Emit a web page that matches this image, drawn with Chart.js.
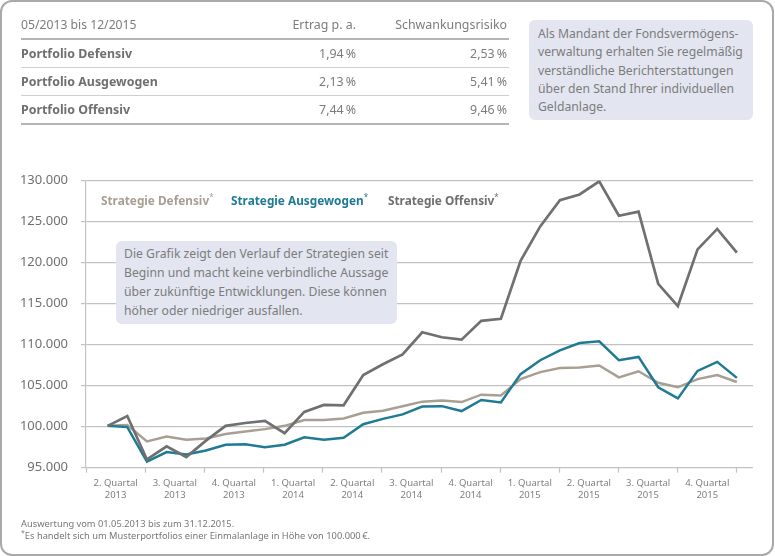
<!DOCTYPE html>
<html lang="de">
<head>
<meta charset="utf-8">
<title>Strategien</title>
<script src="https://cdn.jsdelivr.net/npm/chart.js@4"></script>
<style>
html, body { margin: 0; padding: 0; background: #fff; }
body { width: 775px; height: 556px; overflow: hidden; font-family: "Noto Sans", sans-serif; color: #7c7c7c; }
#frame { position: absolute; left: 0; top: 0; width: 770px; height: 552px; border: 2px solid #a9a9a9; border-radius: 12px; }
#chart { position: absolute; left: 0; top: 0; }
#summary { position: absolute; left: 21px; top: 11px; width: 488px; border-collapse: collapse; table-layout: fixed; font-size: 12.4px; }
#summary td, #summary th { padding: 0; font-weight: normal; text-align: right; height: 27px; border-bottom: 1px solid #cfcfcf; }
#summary tr:first-child th { border-bottom: 2px solid #b4b4b4; }
#summary tr:last-child td { border-bottom: 2px solid #b4b4b4; }
#summary .name { text-align: left; font-weight: bold; color: #6f6f6f; font-size: 12.4px; }
#summary th.name { font-weight: normal; color: #7c7c7c; font-size: 12.2px; }
#summary .risk { padding-right: 2px; }
.note { position: absolute; background: #e3e5f0; border-radius: 6px; box-sizing: border-box; white-space: nowrap; font-size: 12.2px; }
#note1 { left: 529px; top: 20px; width: 224px; height: 100px; padding: 5px 0 0 9px; line-height: 18.3px; }
#note2 { left: 116px; top: 241px; width: 281px; height: 83px; padding: 4px 0 0 8px; line-height: 18.9px; }
.legend { position: absolute; top: 192px; font-size: 11.8px; font-weight: bold; white-space: nowrap; }
.legend sup { font-size: 8px; font-weight: normal; line-height: 0; }
#foot { position: absolute; left: 21px; top: 518px; font-size: 9.3px; line-height: 12px; color: #777; white-space: nowrap; }
#foot sup { font-size: 7px; line-height: 0; }
</style>
</head>
<body>
<div id="frame"></div>
<canvas id="chart" width="775" height="556"></canvas>

<table id="summary">
  <colgroup><col style="width:200px"><col style="width:135px"><col style="width:153px"></colgroup>
  <tr><th class="name">05/2013 bis 12/2015</th><th>Ertrag p. a.</th><th class="risk">Schwankungsrisiko</th></tr>
  <tr><td class="name">Portfolio Defensiv</td><td>1,94&#8239;%</td><td class="risk">2,53&#8239;%</td></tr>
  <tr><td class="name">Portfolio Ausgewogen</td><td>2,13&#8239;%</td><td class="risk">5,41&#8239;%</td></tr>
  <tr><td class="name">Portfolio Offensiv</td><td>7,44&#8239;%</td><td class="risk">9,46&#8239;%</td></tr>
</table>

<div class="note" id="note1">Als Mandant der Fondsvermögens-<br>verwaltung erhalten Sie regelmäßig<br>verständliche Berichterstattungen<br>über den Stand Ihrer individuellen<br>Geldanlage.</div>

<div class="legend" style="left:101px;color:#a89f93">Strategie Defensiv<sup>*</sup></div>
<div class="legend" style="left:231px;color:#1f7a94">Strategie Ausgewogen<sup>*</sup></div>
<div class="legend" style="left:388px;color:#6f6f6f">Strategie Offensiv<sup>*</sup></div>

<div class="note" id="note2">Die Grafik zeigt den Verlauf der Strategien seit<br>Beginn und macht keine verbindliche Aussage<br>über zukünftige Entwicklungen. Diese können<br>höher oder niedriger ausfallen.</div>

<div id="foot">Auswertung vom 01.05.2013 bis zum 31.12.2015.<br><sup>*</sup>Es handelt sich um Musterportfolios einer Einmalanlage in Höhe von 100.000&#8239;€.</div>

<script>
// Werte (in 1.000 EUR)
var defensiv = [100.1, 100.2, 98.2, 98.8, 98.4, 98.55, 99.1, 99.4, 99.7, 100.1, 100.8,
    100.8, 101, 101.7, 101.95, 102.5, 103.05, 103.2, 103, 103.9, 103.8, 105.8,
    106.65, 107.15, 107.2, 107.45, 106, 106.75, 105.35, 104.8, 105.8, 106.3, 105.45];
var ausgewogen = [100.1, 99.95, 95.75, 96.9, 96.6, 97.1, 97.8, 97.85, 97.5, 97.8, 98.7,
    98.4, 98.65, 100.3, 100.95, 101.5, 102.45, 102.5, 101.9, 103.25, 102.95, 106.4,
    108.1, 109.3, 110.2, 110.4, 108.1, 108.5, 104.8, 103.45, 106.8, 107.9, 105.95];
var offensiv = [100.1, 101.3, 96, 97.6, 96.3, 98.3, 100.1, 100.45, 100.7, 99.2, 101.8,
    102.65, 102.6, 106.3, 107.6, 108.8, 111.5, 110.9, 110.6, 112.9, 113.15, 120.2,
    124.4, 127.6, 128.3, 129.9, 125.7, 126.2, 117.4, 114.7, 121.6, 124.1, 121.2];
var quartale = [['2. Quartal', '2013'], ['3. Quartal', '2013'], ['4. Quartal', '2013'],
    ['1. Quartal', '2014'], ['2. Quartal', '2014'], ['3. Quartal', '2014'], ['4. Quartal', '2014'],
    ['1. Quartal', '2015'], ['2. Quartal', '2015'], ['3. Quartal', '2015'], ['4. Quartal', '2015']];

var xStart = -1.1;      // linker Rand der Achse, in Monaten vor dem ersten Punkt
var xEnd = 32.82;
var quartalBreite = 3.009;

function punkte(werte) {
    return werte.map(function (v, i) { return { x: i, y: v * 1000 }; });
}

function serie(werte, farbe, breite, reihenfolge) {
    return {
        data: punkte(werte),
        borderColor: farbe,
        borderWidth: breite,
        order: reihenfolge,
        pointRadius: 0,
        tension: 0,
        borderJoinStyle: 'miter'
    };
}

var achsenFarbe = '#c2c2c2';

new Chart(document.getElementById('chart').getContext('2d'), {
    type: 'line',
    data: {
        datasets: [
            serie(defensiv, '#a89f93', 2.5, 3),
            serie(ausgewogen, '#1f7a94', 2.5, 2),
            serie(offensiv, '#707070', 2.7, 1)
        ]
    },
    options: {
        responsive: false,
        animation: false,
        layout: { autoPadding: false, padding: { left: 0, right: 22, top: 180.5, bottom: 0 } },
        plugins: { legend: { display: false }, tooltip: { enabled: false } },
        scales: {
            x: {
                type: 'linear',
                min: xStart,
                max: xEnd,
                afterFit: function (scale) { scale.height = 88.3; },
                // Striche an den Quartalsgrenzen, Beschriftung in der Mitte
                afterBuildTicks: function (scale) {
                    var t = [];
                    for (var k = 0; k <= quartale.length; k++) {
                        t.push({ value: xStart + k * quartalBreite });
                        if (k < quartale.length) {
                            t.push({ value: xStart + (k + 0.5) * quartalBreite });
                        }
                    }
                    scale.ticks = t;
                },
                afterTickToLabelConversion: function (scale) {
                    scale.ticks.forEach(function (t, i) {
                        t.label = i % 2 ? quartale[(i - 1) / 2] : '';
                    });
                },
                border: { display: false },
                grid: {
                    drawOnChartArea: false,
                    tickLength: 5,
                    tickWidth: 1.2,
                    tickColor: function (ctx) { return ctx.index % 2 ? 'transparent' : achsenFarbe; }
                },
                ticks: {
                    autoSkip: false,
                    maxRotation: 0,
                    minRotation: 0,
                    padding: 4,
                    color: '#7f7f7f',
                    font: { family: 'Noto Sans', size: 9.5, lineHeight: 1.32 }
                }
            },
            y: {
                min: 95000,
                max: 130000,
                afterFit: function (scale) { scale.width = 86; },
                border: { color: achsenFarbe, width: 1.2 },
                grid: { color: achsenFarbe, lineWidth: 1.2, tickLength: 5 },
                ticks: {
                    stepSize: 5000,
                    padding: 13,
                    color: '#707070',
                    font: { family: 'Noto Sans', size: 13 },
                    callback: function (v) { return v.toLocaleString('de-DE'); }
                }
            }
        }
    }
});
</script>
</body>
</html>
